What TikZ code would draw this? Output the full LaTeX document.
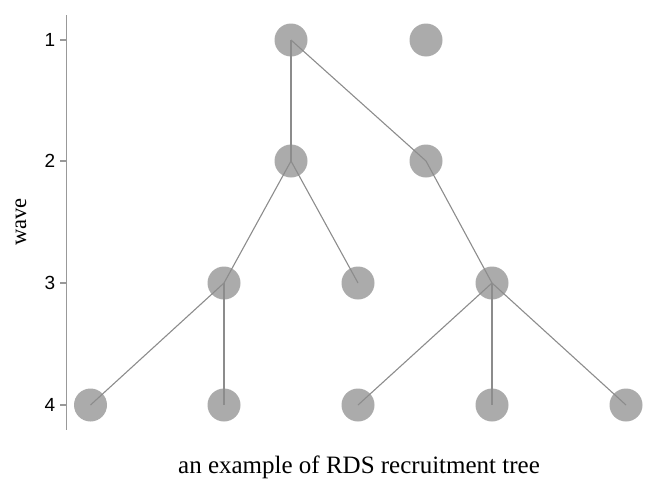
\documentclass[tikz,border=0pt]{standalone}
\usepackage{fontspec}
\setmainfont{Liberation Serif}
\newfontfamily\ticksans{Liberation Sans}
\definecolor{nodegray}{HTML}{ABABAB}
\definecolor{edgegray}{HTML}{8C8C8C}
\definecolor{axisgray}{HTML}{999999}
\tikzset{
  person/.style={circle, fill=nodegray, draw=none, minimum size=33pt, inner sep=0pt},
  tie/.style={draw=edgegray, line width=1.1pt},
  axisline/.style={draw=axisgray, line width=1.2pt},
  ticklabel/.style={font=\ticksans\fontsize{19}{21}\selectfont, inner sep=0pt, text=black},
}
\begin{document}
\begin{tikzpicture}[x=1pt,y=-1pt]
\useasboundingbox (0,0) rectangle (666,490);
% axis
\coordinate (axtop) at (66.5,15);
\coordinate (axbot) at (66.5,430);
\draw[axisline] (axtop) -- (axbot);
\foreach \w/\y in {1/40,2/161,3/283,4/405}{
  \coordinate (t\w) at (66.5,\y);
  \coordinate (tl\w) at (60,\y);
  \draw[axisline] (tl\w) -- (t\w);
  \node[ticklabel] (lab\w) at (50,\y) {\w};
}
\node[rotate=90, font=\fontsize{22.5}{24}\selectfont, inner sep=0pt] (wave) at (21,222) {wave};
% nodes
\node[person] (a1) at (291,40) {};
\node[person] (a2) at (426,40) {};
\node[person] (b1) at (291,161) {};
\node[person] (b2) at (426,161) {};
\node[person] (c1) at (224,283) {};
\node[person] (c2) at (358,283) {};
\node[person] (c3) at (492,283) {};
\node[person] (d1) at (90.5,405) {};
\node[person] (d2) at (224,405) {};
\node[person] (d3) at (358,405) {};
\node[person] (d4) at (492,405) {};
\node[person] (d5) at (626,405) {};
% edges
\draw[tie] (a1.center) -- (b1.center);
\draw[tie] (a1.center) -- (b2.center);
\draw[tie] (b1.center) -- (c1.center);
\draw[tie] (b1.center) -- (c2.center);
\draw[tie] (b2.center) -- (c3.center);
\draw[tie] (c1.center) -- (d1.center);
\draw[tie] (c1.center) -- (d2.center);
\draw[tie] (c3.center) -- (d3.center);
\draw[tie] (c3.center) -- (d4.center);
\draw[tie] (c3.center) -- (d5.center);
% caption
\node[font=\fontsize{25}{27}\selectfont, inner sep=0pt] (cap) at (359,467) {an example of RDS recruitment tree};
\end{tikzpicture}
\end{document}
